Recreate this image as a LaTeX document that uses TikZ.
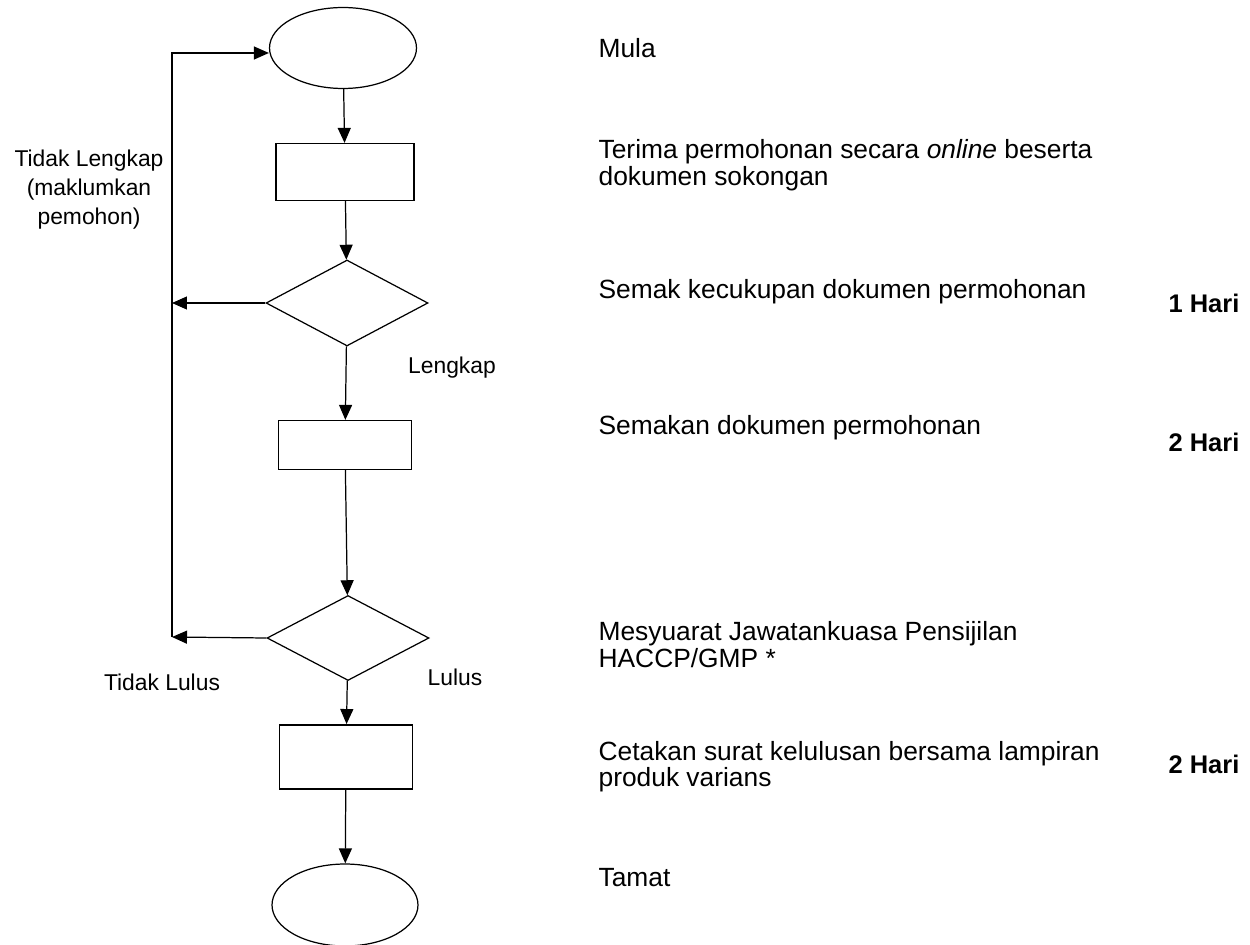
\documentclass[tikz,border=0pt]{standalone}
\usepackage{fontspec}
\setmainfont{Liberation Sans}
\usetikzlibrary{arrows.meta}
\usetikzlibrary{shapes.geometric}
\usetikzlibrary{positioning}

\begin{document}
\begin{tikzpicture}[x=0.02cm,y=-0.02cm,
	>={Triangle[length=3mm,width=2.6mm]},
	line width=0.7pt,
	txt/.style={anchor=west,align=left,inner sep=0pt,font=\fontsize{15}{15.4}\selectfont},
	lbl/.style={align=center,inner sep=0pt,font=\fontsize{13}{16.5}\selectfont},
	hari/.style={anchor=east,inner sep=0pt,font=\fontsize{14.5}{15}\selectfont\bfseries}]
	\useasboundingbox (0,0) rectangle (1250,945);
	\begin{scope}[every node/.style={draw,inner sep=0pt}]
		\node[ellipse,minimum width=2.94cm,minimum height=1.62cm] 		(1) at (343,48) {};
		\node[rectangle,minimum width=2.76cm,minimum height=1.14cm] 	(2) at (345,172) {};
		\node[diamond,aspect=1.88,minimum width=3.24cm,minimum height=1.72cm] (3) at (347,303) {};
		\node[rectangle,minimum width=2.66cm,minimum height=0.98cm] 	(4) at (345,445) {};
		\node[diamond,aspect=1.88,minimum width=3.24cm,minimum height=1.70cm] (5) at (348,638) {};
		\node[rectangle,line width=1.1pt,minimum width=2.66cm,minimum height=1.28cm] (6) at (346,757) {};
		\node[ellipse,minimum width=2.92cm,minimum height=1.64cm] 		(7) at (345,905) {};
	\end{scope}
	\coordinate (lt) at (172,53);
	\coordinate (lb) at (172,637);
	\begin{scope}[every edge/.style={draw=black,->}]
		\path (1) edge (2);
		\path (2) edge (3);
		\path (3) edge (4);
		\path (4) edge (5);
		\path (5) edge (6);
		\path (6) edge (7);
		\path (3.west) edge (3.west -| lt);
		\path (5.west) edge (lb);
	\end{scope}
	\draw[->] (lb) -- (lt) -- (lt -| 1.west);

	\node[lbl] (nl) at (89,190) {Tidak Lengkap\\(maklumkan\\pemohon)};
	\node[lbl] (ok1) at (452,368) {Lengkap};
	\node[lbl] (nok) at (162,682) {Tidak Lulus};
	\node[lbl] (ok2) at (455,677) {Lulus};

	\node[txt] (t1) at (598,48) {Mula};
	\node[txt] (t2) at (598,165) {Terima permohonan secara \textit{online} beserta\\dokumen sokongan};
	\node[txt] (t3) at (598,292) {Semak kecukupan dokumen permohonan};
	\node[txt] (t4) at (598,428) {Semakan dokumen permohonan};
	\node[txt] (t5) at (598,645) {Mesyuarat Jawatankuasa Pensijilan\\HACCP/GMP *};
	\node[txt,font=\fontsize{15}{11}\selectfont] (t6) at (598,767) {Cetakan surat kelulusan bersama lampiran\\produk varians};
	\node[txt] (t7) at (598,878) {Tamat};

	\node[hari] (h1) at (1240,303) {1 Hari};
	\node[hari] (h2) at (1240,442) {2 Hari};
	\node[hari] (h3) at (1240,764) {2 Hari};
\end{tikzpicture}
\end{document}
